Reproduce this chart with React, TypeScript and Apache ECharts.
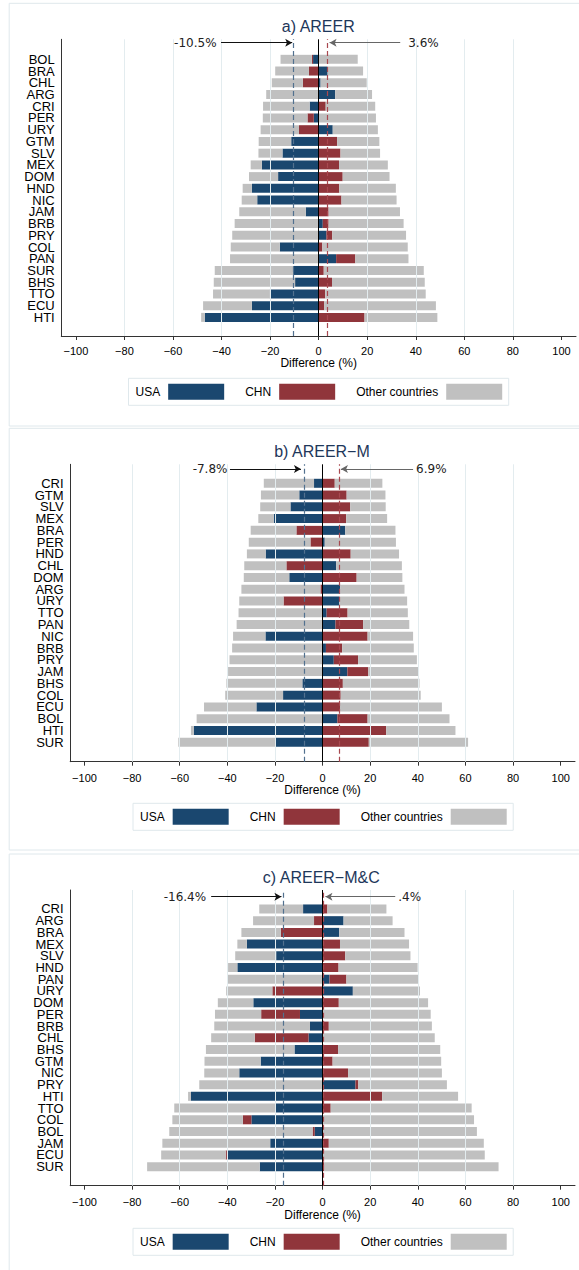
import React, { useEffect, useRef } from 'react';
import * as echarts from 'echarts';

// ---------- DATA ----------
const countriesA = ['BOL','BRA','CHL','ARG','CRI','PER','URY','GTM','SLV','MEX','DOM','HND','NIC','JAM','BRB','PRY','COL','PAN','SUR','BHS','TTO','ECU','HTI'];
const usaA = [-2.3, 3.7, 0.8, 6.8, -3.7, -2.0, 5.8, -11.3, -14.9, -23.4, -16.7, -27.5, -25.3, -5.3, 1.7, 3.2, -16.0, 7.2, -10.5, -9.7, -20.1, -27.5, -46.9];
const chnA = [-0.5, -4.0, -6.5, 0, 2.9, -2.6, -8.1, 7.6, 9.0, 8.4, 9.9, 8.5, 9.4, 4.1, 2.4, 2.4, 1.5, 7.9, 2.1, 5.5, 2.7, 2.3, 18.9];
const othNegA = [-12.9, -13.9, -12.8, -21.6, -19.2, -18.4, -15.8, -13.4, -9.9, -4.6, -12.0, -3.8, -6.4, -27.4, -34.6, -35.6, -20.2, -36.5, -32.3, -33.5, -23.4, -20.1, -1.5];
const othPosA = [16.1, 14.6, 19.0, 15.2, 20.4, 23.6, 18.6, 17.4, 16.3, 20.1, 19.3, 23.3, 22.7, 29.4, 30.9, 30.4, 35.2, 21.9, 41.2, 38.2, 41.4, 46.0, 30.0];

const countriesB = ['CRI','GTM','SLV','MEX','BRA','PER','HND','CHL','DOM','ARG','URY','TTO','PAN','NIC','BRB','PRY','JAM','BHS','COL','ECU','BOL','HTI','SUR'];
const usaB = [-3.6, -9.8, -13.5, -20.5, 9.5, 0.9, -23.9, 5.7, -14.0, 7.4, 7.0, 1.7, 5.4, -24.0, 1.4, 4.7, 10.4, -8.5, -16.6, -27.8, 6.2, -54.1, -19.8];
const chnB = [5.1, 10.1, 11.6, 9.9, -11.0, -5.1, 11.8, -15.2, 14.3, -0.9, -16.4, 8.8, 11.6, 18.9, 6.8, 10.2, 8.8, 8.5, 7.6, 7.3, 12.7, 26.7, 19.4];
const othNegB = [-21.1, -16.1, -12.7, -6.5, -19.2, -25.9, -7.9, -17.7, -19.1, -33.2, -18.6, -35.3, -36.1, -13.6, -38.0, -39.1, -39.7, -31.9, -24.3, -22.0, -52.9, -1.2, -40.8];
const othPosB = [20.0, 16.3, 14.9, 17.2, 21.1, 29.9, 20.3, 27.6, 19.2, 27.0, 28.5, 25.3, 19.4, 19.1, 30.1, 24.7, 20.9, 32.2, 33.6, 42.8, 34.4, 29.1, 41.7];

const countriesC = ['CRI','ARG','BRA','MEX','SLV','HND','PAN','URY','DOM','PER','BRB','CHL','BHS','GTM','NIC','PRY','HTI','TTO','COL','BOL','JAM','ECU','SUR'];
const usaC = [-8.2, 8.8, 7.0, -31.8, -19.5, -35.8, 2.9, 12.7, -29.1, -9.5, -5.3, -5.9, -11.8, -26.0, -35.0, 13.8, -55.3, -19.8, -29.9, -3.3, -22.0, -40.2, -26.4];
const chnC = [2.0, -3.6, -17.5, 7.3, 9.5, 6.7, 7.1, -21.1, 6.8, -16.3, 2.6, -22.6, 6.5, 4.2, 10.7, 1.2, 25.0, 3.4, -3.6, -0.9, 2.6, -0.5, 0.6];
const othNegC = [-18.4, -25.6, -16.6, -4.0, -17.2, -3.9, -39.8, -19.4, -14.9, -19.4, -40.2, -18.3, -37.2, -23.6, -14.7, -51.8, -1.2, -42.5, -29.6, -60.2, -45.3, -27.1, -47.3];
const othPosC = [24.8, 20.6, 27.4, 29.0, 27.4, 33.2, 30.1, 28.2, 37.5, 45.4, 43.3, 47.1, 42.9, 45.6, 39.4, 37.2, 31.9, 59.2, 63.6, 64.8, 65.1, 68.1, 73.3];

const panelTitles = ['a) AREER', 'b) AREER\u2212M', 'c) AREER\u2212M&C'];
const avgUSA = [-10.5, -7.8, -16.4];
const avgCHN = [3.6, 6.9, 0.4];
const avgUSALabels = ['-10.5%', '-7.8%', '-16.4%'];
const avgCHNLabels = ['3.6%', '6.9%', '.4%'];
const xTicks = [-100, -80, -60, -40, -20, 0, 20, 40, 60, 80, 100];
const xGridLines = [-80, -60, -40, -20, 20, 40, 60, 80];
const legendNames = ['USA', 'CHN', 'Other countries'];

const panels = [
  { countries: countriesA, usa: usaA, chn: chnA, othNeg: othNegA, othPos: othPosA },
  { countries: countriesB, usa: usaB, chn: chnB, othNeg: othNegB, othPos: othPosB },
  { countries: countriesC, usa: usaC, chn: chnC, othNeg: othNegC, othPos: othPosC },
];

// ---------- LAYOUT / STYLE ----------
const layouts = [
  { left: 61.3, width: 514.7, plotTop: 39.3, axisY: 336, barTop: 53.45, barH: 269.8, titleX: 318.3, titleY: 26.7,
    frameY: 3.3, frameH: 422.7, legendLeft: 128.5, legendTop: 378.3, labelMargin: 9, nameGap: 21,
    arrowY: 0.9885, arrowL: [-40.2, -10.9], arrowR: [33.6, 4.5], distL: 4.5, distR: 8 },
  { left: 70.2, width: 504.8, plotTop: 464.3, axisY: 761.7, barTop: 477.4, barH: 270.7, titleX: 322, titleY: 451.7,
    frameY: 428.3, frameH: 421.7, legendLeft: 133, legendTop: 803.3, labelMargin: 10.5, nameGap: 21,
    arrowY: 0.9842, arrowL: [-38.9, -9.1], arrowR: [38.0, 7.7], distL: 2.5, distR: 3 },
  { left: 70.2, width: 504.8, plotTop: 890, axisY: 1185.7, barTop: 903.1, barH: 269.4, titleX: 321.3, titleY: 877.3,
    frameY: 854, frameH: 421, legendLeft: 133, legendTop: 1228.3, labelMargin: 11, nameGap: 21,
    arrowY: 0.9773, arrowL: [-46.8, -17.3], arrowR: [30.5, 1.2], distL: 5, distR: 3 },
];

const BLUE = '#1a476f';
const RED = '#90353b';
const GRAY = '#c0c0c0';
const SANS = '"Liberation Sans", Arial, Helvetica, sans-serif';
const DEJAVU = '"DejaVu Sans", sans-serif';

const fmtTick = (v: number) => (v < 0 ? '\u2212' + Math.abs(v) : String(v));

export default function App() {
  const ref = useRef<HTMLDivElement>(null);
  useEffect(() => {
    if (!ref.current) return;
    const chart = echarts.init(ref.current, null, { renderer: 'svg', width: 579, height: 1270 });
    const grid: any[] = [];
    const xAxis: any[] = [];
    const yAxis: any[] = [];
    const series: any[] = [];
    const legend: any[] = [];
    const graphic: any[] = [];

    panels.forEach((P, p) => {
      const L = layouts[p];
      const gA = 2 * p;
      const gB = 2 * p + 1;
      grid.push({ left: L.left, width: L.width, top: L.barTop, height: L.barH });
      grid.push({ left: L.left, width: L.width, top: L.plotTop, height: L.axisY - L.plotTop });

      xAxis.push({ type: 'value', gridIndex: gA, min: -106, max: 106, show: false });
      xAxis.push({
        type: 'value', gridIndex: gB, min: -106, max: 106,
        axisLine: { show: true, onZero: false, lineStyle: { color: '#333', width: 1 } },
        axisTick: { show: true, length: 4, customValues: xTicks, lineStyle: { color: '#333' } },
        axisLabel: { customValues: xTicks, formatter: fmtTick, fontSize: 11, fontFamily: SANS, color: '#000', margin: L.labelMargin },
        splitLine: { show: false },
        name: 'Difference (%)', nameLocation: 'middle', nameGap: L.nameGap,
        nameTextStyle: { fontSize: 12, fontFamily: SANS, color: '#000' },
      });
      yAxis.push({
        type: 'category', gridIndex: gA, data: P.countries, inverse: true,
        axisLine: { show: false }, axisTick: { show: false },
        axisLabel: { interval: 0, margin: 6.6, fontSize: 13, lineHeight: 11, fontFamily: SANS, color: '#000' },
      });
      yAxis.push({
        type: 'value', gridIndex: gB, min: 0, max: 1,
        axisLine: { show: true, onZero: false, lineStyle: { color: '#333', width: 1 } },
        axisTick: { show: false }, axisLabel: { show: false }, splitLine: { show: false },
      });

      const barBase = { type: 'bar', xAxisIndex: gA, yAxisIndex: gA, stack: 'st' + p, stackStrategy: 'samesign', barWidth: 9, z: 2, silent: true };
      series.push({ ...barBase, name: 'USA', data: P.usa, itemStyle: { color: BLUE } });
      series.push({ ...barBase, name: 'CHN', data: P.chn, itemStyle: { color: RED } });
      series.push({ ...barBase, name: 'Other countries', data: P.othNeg, itemStyle: { color: GRAY } });
      series.push({ ...barBase, name: 'Other countries', data: P.othPos, itemStyle: { color: GRAY } });

      // gridlines + average dashed lines (behind bars)
      series.push({
        type: 'line', name: '_grid' + p, xAxisIndex: gB, yAxisIndex: gB, data: [], z: 1, silent: true,
        markLine: {
          silent: true, symbol: 'none', animation: false, label: { show: false },
          lineStyle: { color: '#e3ecef', width: 1, type: 'solid' },
          data: [
            ...xGridLines.map((v) => ({ xAxis: v })),
            { xAxis: avgUSA[p], lineStyle: { color: '#52718f', width: 1.2, type: [5, 3] } },
            { xAxis: avgCHN[p], lineStyle: { color: '#a8484f', width: 1.2, type: [5, 3] } },
          ],
        },
      });
      // zero line (on top)
      series.push({
        type: 'line', name: '_zero' + p, xAxisIndex: gB, yAxisIndex: gB, data: [], z: 5, silent: true,
        markLine: {
          silent: true, symbol: 'none', animation: false, label: { show: false },
          lineStyle: { color: '#000', width: 1, type: 'solid' },
          data: [{ xAxis: 0 }],
        },
      });
      // annotation arrows
      const lblStyle = { show: true, position: 'start', fontSize: 12, fontFamily: DEJAVU, color: '#222' };
      series.push({
        type: 'line', name: '_arrow' + p, xAxisIndex: gB, yAxisIndex: gB, data: [], z: 5, silent: true,
        markLine: {
          silent: true, symbol: ['none', 'arrow'], symbolSize: [6, 7], animation: false,
          lineStyle: { width: 1, type: 'solid' },
          data: [
            [
              { coord: [L.arrowL[0], L.arrowY], lineStyle: { color: '#111' }, label: { ...lblStyle, formatter: avgUSALabels[p], distance: L.distL } },
              { coord: [L.arrowL[1], L.arrowY] },
            ],
            [
              { coord: [L.arrowR[0], L.arrowY], lineStyle: { color: '#666' }, label: { ...lblStyle, formatter: avgCHNLabels[p], distance: L.distR } },
              { coord: [L.arrowR[1], L.arrowY] },
            ],
          ],
        },
      });

      legend.push({
        left: L.legendLeft, top: L.legendTop, orient: 'horizontal', data: legendNames,
        icon: 'rect', itemWidth: 56, itemHeight: 16, itemGap: 21, align: 'right',
        padding: [5.5, 6.5, 5.5, 7], borderColor: '#dfe8ec', borderWidth: 1, backgroundColor: '#fff',
        selectedMode: false,
        textStyle: { fontSize: 12, fontFamily: SANS, color: '#000', padding: [0, 3, 0, 0] },
      });

      graphic.push({
        type: 'rect', silent: true, z: -1,
        shape: { x: 9.2, y: L.frameY, width: 600, height: L.frameH },
        style: { fill: '#fff', stroke: '#dfe8ec', lineWidth: 1 },
      });
      graphic.push({
        type: 'text', silent: true, z: 10, x: L.titleX, y: L.titleY,
        style: {
          text: panelTitles[p], fill: '#1e375a', font: '16px "Liberation Sans", Arial, sans-serif',
          align: 'center', verticalAlign: 'middle', textAlign: 'center', textVerticalAlign: 'middle',
        },
      });
    });

    chart.setOption({
      animation: false,
      backgroundColor: '#fff',
      grid, xAxis, yAxis, series, legend, graphic,
    });
    return () => chart.dispose();
  }, []);

  return <div ref={ref} style={{ position: 'absolute', left: 0, top: 0, width: 579, height: 1270 }} />;
}
